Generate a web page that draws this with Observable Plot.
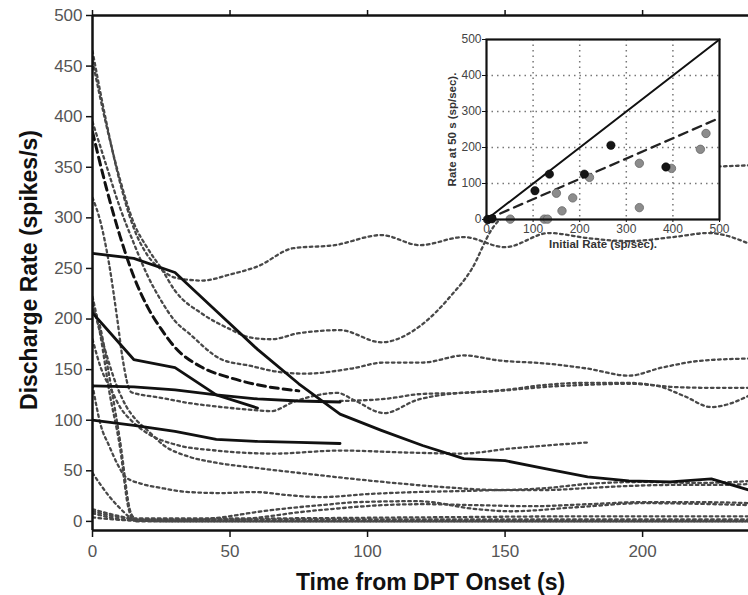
<!DOCTYPE html>
<html>
<head>
<meta charset="utf-8">
<script src="https://cdn.jsdelivr.net/npm/d3@7"></script>
<script src="https://cdn.jsdelivr.net/npm/@observablehq/plot@0.6"></script>
<style>
  html, body { margin: 0; padding: 0; background: white; }
  #wrap { position: relative; width: 748px; height: 595px; }
  #inset { position: absolute; left: 440px; top: 28px; }
</style>
</head>
<body>
<div id="wrap"><div id="main"></div><div id="inset"></div></div>
<script>
// ---- Main chart data: [time (s), discharge rate (spikes/s)] ----
const xTicks = [0, 50, 100, 150, 200];
const yTicks = [0, 50, 100, 150, 200, 250, 300, 350, 400, 450, 500];

const solidA = [[0,265],[15,260],[30,246],[45,208],[60,170],[75,136],[90,106],[105,90],[120,75],[135,62],[150,60],[165,52],[180,44],[195,40],[210,39],[225,42],[240,30]];
const solidB = [[0,206],[15,160],[30,152],[45,125],[60,112]];
const solidC = [[0,134],[15,133],[30,130],[45,125],[60,121],[75,119],[90,118]];
const solidD = [[0,100],[15,95],[30,89],[45,81],[60,79],[75,78],[90,77]];
const dashedE = [[0,385],[5,330],[10,282],[15,242],[20,212],[25,190],[30,172],[40,152],[50,142],[60,135],[75,129]];

const dot1 = [[0,465],[5,395],[10,335],[15,290],[20,263],[25,249],[30,241],[40,238],[50,244],[60,252],[73,270],[88,273],[105,283],[119,273],[135,281],[150,271],[166,285],[180,280],[195,277],[211,281],[224,285],[240,273]];
const dot2 = [[0,455],[5,392],[10,338],[15,295],[20,270],[25,250],[30,228],[40,205],[50,190],[57,182],[65,180],[75,186],[90,189],[105,177],[120,195],[130,222],[138,250],[145,288],[155,312],[170,330],[190,342],[210,348],[230,351],[240,352]];
const dot3 = [[0,395],[5,352],[10,310],[15,275],[20,243],[25,218],[30,198],[35,186],[47,160],[57,154],[67,148],[77,146],[94,151],[106,157],[120,157],[135,164],[148,159],[165,156],[180,151],[195,144],[207,152],[222,159],[240,161]];
const dot4 = [[0,320],[3,295],[6,255],[9,200],[11,160],[14,128],[18,125],[23,123],[35,117],[47,113],[59,110],[65,109],[73,118],[89,127],[95,120],[106,107],[118,120],[130,126],[148,129],[165,133],[180,135],[195,136],[205,134],[215,124],[225,113],[240,126]];
const dot5 = [[90,119],[106,121],[120,126],[135,127],[150,130],[165,135],[180,137],[195,137],[210,133],[225,132],[240,132]];
const dot6 = [[0,180],[3,152],[7,129],[10,113],[14,100],[20,87],[30,76],[45,70],[54,68],[66,67],[90,70],[115,68],[134,67],[152,72],[180,78]];
const dot7 = [[0,215],[4,175],[8,140],[12,115],[16,100],[20,90],[26,75],[35,64],[45,58],[59,53],[78,47],[102,40],[127,34],[148,31],[165,33],[180,37],[200,39],[220,38],[240,40]];
const dot8 = [[0,135],[3,95],[6,75],[9,57],[12,44],[18,37],[25,33],[35,29],[47,28],[59,29],[71,26],[83,24],[100,27],[118,29],[135,30],[150,31],[165,31],[180,33],[195,35],[210,36],[225,36],[240,37]];
const dot9 = [[0,12],[10,5],[15,2],[30,1],[47,4],[59,9],[71,13],[83,16],[96,19],[118,20],[140,12],[152,10],[176,14],[200,18],[240,16]];
const dot10 = [[0,8],[15,1],[50,1],[61,4],[75,9],[90,13],[105,16],[120,17],[140,16],[160,15],[180,17],[200,19],[220,19],[240,18]];
const dot11 = [[0,10],[15,3],[60,3],[120,4],[180,5],[240,5]];
const dot12 = [[0,4],[15,1],[100,1],[240,1]];
const dot13 = [[0,222],[3,182],[6,130],[10,73],[13,14],[15,1],[30,0],[240,0]];
const dot14 = [[0,210],[2,200],[6,145],[10,80],[14,8],[16,2],[240,2]];
const dot15 = [[0,48],[3,36],[6,25],[10,13],[14,3],[16,0],[240,0]];

const dottedSeries = [dot1, dot2, dot3, dot4, dot5, dot6, dot7, dot8, dot9, dot10, dot11, dot12, dot13, dot14, dot15];
const solidSeries = [solidA, solidB, solidC, solidD];

// ---- Inset data: initial rate vs rate at 50 s (sp/sec) ----
const insetTicks = [0, 100, 200, 300, 400, 500];
const insetGrid = [100, 200, 300, 400];
const blackX = [104, 135, 210, 267, 385, 3, 12];
const blackY = [80, 126, 126, 206, 146, 0, 2];
const grayX = [51, 124, 131, 162, 150, 185, 221, 328, 328, 397, 459, 471, 2];
const grayY = [1, 1, 1, 24, 73, 60, 117, 156, 33, 142, 195, 239, 0];
const identityLine = [[0, 0], [500, 500]];
const fitLine = [[0, 0], [500, 282]];

const FONT = "'Liberation Sans', Arial, Helvetica, sans-serif";
const xy = {x: d => d[0], y: d => d[1]};

const main = Plot.plot({
  width: 748,
  height: 595,
  marginLeft: 92,
  marginRight: 0,
  marginTop: 15,
  marginBottom: 65,
  style: {fontFamily: FONT, fontSize: "17px", color: "#222", background: "white", overflow: "visible"},
  x: {domain: [0, 238.5]},
  y: {domain: [-9, 500]},
  marks: [
    ...dottedSeries.map(s => Plot.line(s, {...xy, curve: "monotone-x", stroke: "#484848", strokeWidth: 2.3, strokeDasharray: "2.6 3.4", clip: true})),
    Plot.line(dashedE, {...xy, curve: "monotone-x", stroke: "#111", strokeWidth: 3, strokeDasharray: "8 5", clip: true}),
    ...solidSeries.map(s => Plot.line(s, {...xy, stroke: "#111", strokeWidth: 2.8, clip: true})),
    Plot.ruleX([0], {stroke: "#111", strokeWidth: 2.5}),
    Plot.ruleY([-9], {stroke: "#111", strokeWidth: 2.5}),
    Plot.ruleY([500], {stroke: "#111", strokeWidth: 2.5}),
    Plot.axisX({ticks: xTicks, tickSize: 7, tickPadding: 7, fontSize: 17, fill: "#555", stroke: "#111", strokeWidth: 1.5, label: null}),
    Plot.axisX({anchor: "top", ticks: xTicks, tickSize: 6, tickFormat: () => "", stroke: "#111", strokeWidth: 1.5, label: null}),
    Plot.axisY({ticks: yTicks, tickSize: 6, tickPadding: 4, fontSize: 17, fill: "#555", stroke: "#111", strokeWidth: 1.5, label: null}),
    Plot.text(["Time from DPT Onset (s)"], {frameAnchor: "bottom", dx: 10, dy: 59, textAnchor: "middle", lineAnchor: "bottom", fontSize: 23, fontWeight: "bold", fill: "#111"}),
    Plot.text(["Discharge Rate (spikes/s)"], {frameAnchor: "left", dx: -56, dy: -3, rotate: -90, textAnchor: "middle", lineAnchor: "bottom", fontSize: 23, fontWeight: "bold", fill: "#111"})
  ]
});
document.getElementById("main").appendChild(main);

const ptsBlack = blackX.map((x, i) => [x, blackY[i]]);
const ptsGray = grayX.map((x, i) => [x, grayY[i]]);

const inset = Plot.plot({
  width: 300,
  height: 230,
  marginLeft: 46,
  marginRight: 21,
  marginTop: 11,
  marginBottom: 39,
  style: {fontFamily: FONT, fontSize: "12px", color: "#222", background: "transparent", overflow: "visible"},
  x: {domain: [0, 500]},
  y: {domain: [0, 500]},
  marks: [
    Plot.frame({fill: "white", stroke: "none"}),
    Plot.gridX(insetGrid, {stroke: "#777", strokeOpacity: 1, strokeWidth: 1.5, strokeDasharray: "1.5 4"}),
    Plot.gridY(insetGrid, {stroke: "#777", strokeOpacity: 1, strokeWidth: 1.5, strokeDasharray: "1.5 4"}),
    Plot.line(identityLine, {...xy, stroke: "#111", strokeWidth: 2}),
    Plot.line(fitLine, {...xy, stroke: "#222", strokeWidth: 2.3, strokeDasharray: "9 6"}),
    Plot.dot(ptsGray, {...xy, r: 4.2, fill: "#8c8c8c", stroke: "#666", strokeWidth: 0.8}),
    Plot.dot(ptsBlack, {...xy, r: 4.2, fill: "#151515", stroke: "#000", strokeWidth: 0.5}),
    Plot.frame({stroke: "#111", strokeWidth: 2.2}),
    Plot.axisX({ticks: insetTicks, tickSize: 3, tickPadding: 2, fontSize: 12, fill: "#444", stroke: "#111", label: null}),
    Plot.axisY({ticks: insetTicks, tickSize: 4, tickPadding: 1, fontSize: 12, fill: "#444", stroke: "#111", label: null}),
    Plot.text(["Initial Rate (sp/sec)."], {frameAnchor: "bottom", dy: 28, textAnchor: "middle", lineAnchor: "bottom", fontSize: 11.5, fontWeight: "bold", fill: "#333"}),
    Plot.text(["Rate at 50 s (sp/sec)."], {frameAnchor: "left", dx: -31, rotate: -90, textAnchor: "middle", lineAnchor: "bottom", fontSize: 11.5, fontWeight: "bold", fill: "#333"})
  ]
});
document.getElementById("inset").appendChild(inset);
</script>
</body>
</html>
